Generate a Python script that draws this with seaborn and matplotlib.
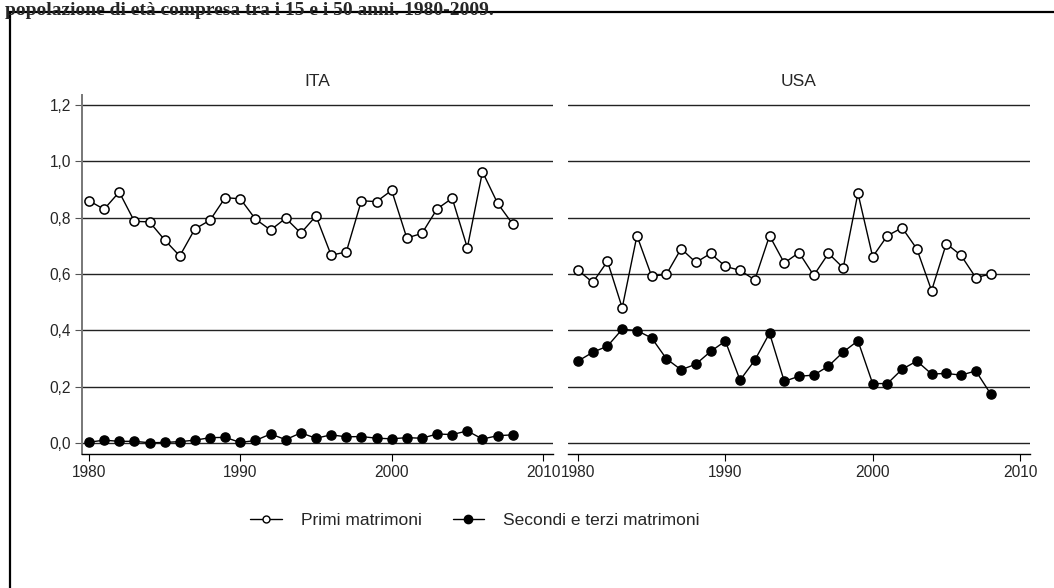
import matplotlib
matplotlib.use("Agg")
import matplotlib.pyplot as plt
import seaborn as sns
import pandas as pd
from matplotlib.lines import Line2D
from matplotlib.patches import Rectangle

sns.set_theme(style="white")
plt.rcParams['font.family'] = ['Liberation Sans', 'DejaVu Sans']

years = list(range(1980, 2009))
ita_primi = [0.860, 0.830, 0.891, 0.787, 0.785, 0.721, 0.664, 0.760, 0.791, 0.871,
             0.867, 0.795, 0.756, 0.798, 0.745, 0.806, 0.667, 0.678, 0.860, 0.857,
             0.897, 0.728, 0.744, 0.831, 0.869, 0.693, 0.963, 0.851, 0.777]
ita_secondi = [0.003, 0.010, 0.006, 0.006, 0.001, 0.002, 0.005, 0.010, 0.019, 0.020,
               0.002, 0.009, 0.032, 0.012, 0.036, 0.017, 0.029, 0.022, 0.023, 0.017,
               0.015, 0.019, 0.017, 0.032, 0.030, 0.043, 0.014, 0.026, 0.029]
usa_primi = [0.614, 0.570, 0.645, 0.480, 0.736, 0.592, 0.599, 0.690, 0.641, 0.673,
             0.627, 0.613, 0.579, 0.736, 0.639, 0.676, 0.595, 0.673, 0.622, 0.887,
             0.661, 0.736, 0.764, 0.689, 0.541, 0.708, 0.666, 0.587, 0.600]
usa_secondi = [0.291, 0.322, 0.344, 0.404, 0.399, 0.373, 0.299, 0.260, 0.280, 0.325,
               0.362, 0.223, 0.294, 0.390, 0.219, 0.237, 0.241, 0.273, 0.323, 0.363,
               0.211, 0.211, 0.262, 0.291, 0.245, 0.247, 0.241, 0.256, 0.175]

panels = ["ITA", "USA"]
series = ["Primi matrimoni", "Secondi e terzi matrimoni"]
yticks = [0.0, 0.2, 0.4, 0.6, 0.8, 1.0, 1.2]
ytick_labels = ["0,0", "0,2", "0,4", "0,6", "0,8", "1,0", "1,2"]
xticks = [1980, 1990, 2000, 2010]

data = {
    "ITA": {series[0]: ita_primi, series[1]: ita_secondi},
    "USA": {series[0]: usa_primi, series[1]: usa_secondi},
}

W, H = 1054, 588
fig = plt.figure(figsize=(W / 100, H / 100), dpi=100)
fig.patch.set_facecolor("white")

# outer frame (only top and left visible)
fig.add_artist(Rectangle((10 / W, -0.1), 1.2, 1 - 12 / H + 0.1, transform=fig.transFigure,
                         fill=False, edgecolor="black", linewidth=1.6))
fig.text(5 / W, 1 - 15 / H, "popolazione di età compresa tra i 15 e i 50 anni. 1980-2009.",
         family=["Liberation Serif", "DejaVu Serif"], fontweight="bold", fontsize=14,
         ha="left", va="baseline")

ax_pos = {
    "ITA": [82 / W, 1 - 454 / H, 471 / W, 359 / H],
    "USA": [568 / W, 1 - 454 / H, 462 / W, 359 / H],
}
xlims = {"ITA": (1979.54, 2010.66), "USA": (1979.32, 2010.68)}

styles = {
    series[0]: dict(marker="o", markerfacecolor="white", markeredgecolor="black",
                    markeredgewidth=1.1, markersize=6.6),
    series[1]: dict(marker="o", markerfacecolor="black", markeredgecolor="black",
                    markeredgewidth=1.0, markersize=6.6),
}

TICK_FS = 11.2
for p in panels:
    ax = fig.add_axes(ax_pos[p])
    ax.set_facecolor("white")
    for y in yticks:
        ax.axhline(y, color="#222222", lw=1.0, zorder=0)
    for s in series:
        df = pd.DataFrame({"anno": years, "valore": data[p][s]})
        sns.lineplot(data=df, x="anno", y="valore", ax=ax, color="black", lw=1.0,
                     zorder=3, **styles[s])
    ax.set_xlim(*xlims[p])
    ax.set_ylim(-0.039, 1.2355)
    ax.set_xticks(xticks)
    ax.set_xticklabels([str(x) for x in xticks], fontsize=TICK_FS)
    ax.set_xlabel("")
    ax.set_ylabel("")
    for sp in ["top", "right"]:
        ax.spines[sp].set_visible(False)
    ax.spines["bottom"].set_color("black")
    ax.spines["bottom"].set_linewidth(1.0)
    ax.tick_params(axis="x", direction="out", length=5, width=0.8, color="black",
                   bottom=True, pad=3, labelsize=TICK_FS)
    if p == "ITA":
        ax.set_yticks(yticks)
        ax.set_yticklabels(ytick_labels, fontsize=TICK_FS)
        ax.spines["left"].set_color("#777777")
        ax.spines["left"].set_linewidth(1.4)
        ax.tick_params(axis="y", direction="out", length=5, width=0.8, color="#555555",
                       left=True, pad=3, labelsize=TICK_FS)
    else:
        ax.spines["left"].set_visible(False)
        ax.set_yticks(yticks)
        ax.tick_params(axis="y", left=False, labelleft=False)
    ax.text(0.5, (454 - 82) / 359, p, transform=ax.transAxes, ha="center", va="center",
            fontsize=12.5)
    if ax.get_legend() is not None:
        ax.get_legend().remove()

leg_styles = {
    series[0]: dict(marker="o", markerfacecolor="white", markeredgecolor="black",
                    markeredgewidth=1.0, markersize=5.0),
    series[1]: dict(marker="o", markerfacecolor="black", markeredgecolor="black",
                    markeredgewidth=1.0, markersize=6.0),
}
handles = [Line2D([], [], color="black", lw=1.0, **leg_styles[s]) for s in series]
fig.legend(handles, series, loc="center", bbox_to_anchor=(475 / W, 1 - 520 / H), ncol=2,
           frameon=False, fontsize=12.5, handlelength=1.8, columnspacing=1.8,
           handletextpad=1.1)

fig.savefig("out.png", dpi=100)
